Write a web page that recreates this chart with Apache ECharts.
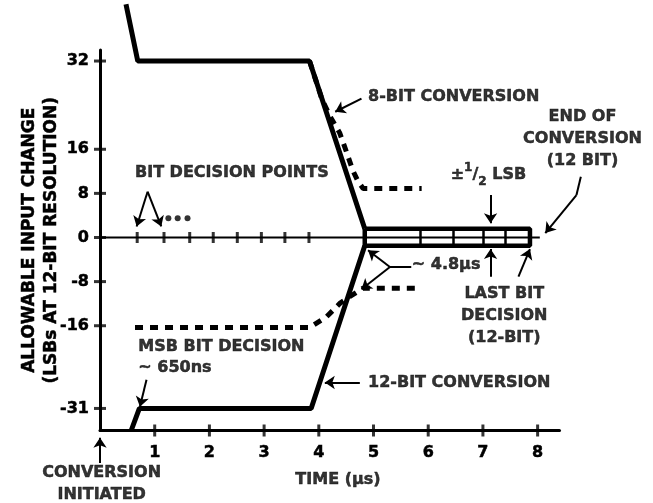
<!DOCTYPE html>
<html><head><meta charset="utf-8">
<script src="https://cdn.jsdelivr.net/npm/echarts@6/dist/echarts.min.js"></script>
<style>html,body{margin:0;padding:0;background:#fff}#c{width:653px;height:503px}</style>
</head><body><div id="c"></div>
<script>
// ---- data (time in µs, value in LSBs) ----
const yTickValues = [32, 16, 8, 0, -8, -16, -31];
const xTickValues = [1, 2, 3, 4, 5, 6, 7, 8];
const upper12 = [[0.475, 42.3], [0.69, 32], [3.83, 32], [4.84, 1.6]];
const lower12 = [[0.57, -35], [0.72, -31], [3.86, -31], [4.84, -1.5]];
const upper8 = [[3.83, 32], [4.06, 25], [4.22, 21.7], [4.38, 19], [4.51, 15.4], [4.62, 12.2], [4.72, 10.1], [4.81, 8.9], [5.88, 8.9]];
const lower8 = [[0.64, -16.3], [3.84, -16.3], [4.14, -14.4], [4.39, -11.9], [4.57, -10.7], [4.81, -9.2], [5.81, -9.2]];
const lsbBox = [[4.84, 1.6], [7.86, 1.6], [7.86, -1.5], [4.84, -1.5], [4.84, 1.6]];
const boxDividers = [5.85, 6.46, 7.01, 7.40];
const boxTop = 1.6, boxBottom = -1.5;
const bitDecisions = [0.68, 1.17, 1.64, 2.07, 2.51, 2.95, 3.38, 3.82];
const zeroLine = [[0, 0], [8.04, 0]];
const ellipsis = [[1.25, 3.5], [1.42, 3.5], [1.60, 3.5]];
const arrowSegments = [
  [[0.87, 8.3], [0.67, 2.0]],
  [[0.87, 8.3], [1.12, 2.0]],
  [[4.78, 25.2], [4.30, 22.8]],
  [[8.71, 7.7], [8.14, 0.8]],
  [[7.14, 7.7], [7.14, 2.6]],
  [[5.30, -5.35], [4.90, -2.3]],
  [[5.30, -5.35], [4.78, -9.4]],
  [[7.14, -7.1], [7.14, -2.1]],
  [[7.65, -7.1], [7.86, -2.1]],
  [[4.75, -26.3], [4.11, -26.3]],
  [[0.85, -25.8], [0.73, -30.7]],
  [[0, -40.9], [0, -36.3]]
];
const plainSegments = [
  [[8.79, 11.0], [8.71, 7.7]],
  [[5.69, -5.35], [5.30, -5.35]]
];
const notes = [
  { t: 2.41, v: 11.7, text: 'BIT DECISION POINTS', align: 'center' },
  { t: 4.90, v: 25.5, text: '8-BIT CONVERSION', align: 'left' },
  { t: 8.82, v: 17.9, text: 'END OF\nCONVERSION\n(12 BIT)', align: 'center' },
  { t: 7.10, v: 11.3, text: '{b|±}{sup|1}{b|/}{sub|2}{b| LSB}', align: 'center' },
  { t: 5.70, v: -5.0, text: '~ 4.8µs', align: 'left' },
  { t: 7.39, v: -14.2, text: 'LAST BIT\nDECISION\n(12-BIT)', align: 'center' },
  { t: 4.90, v: -26.3, text: '12-BIT CONVERSION', align: 'left' },
  { t: 0.70, v: -19.8, text: 'MSB BIT DECISION', align: 'left' },
  { t: 0.70, v: -23.7, text: '~ 650ns', align: 'left' },
  { t: 0.03, v: -44.6, text: 'CONVERSION\nINITIATED', align: 'center' },
  { t: 4.35, v: -44.0, text: 'TIME (µs)', align: 'center' }
];
const yTitle = 'ALLOWABLE INPUT CHANGE\n(LSBs AT 12-BIT RESOLUTION)';

// ---- chart ----
const F = 'DejaVu Sans';
const K = '#000';
const heavy = { textBorderColor: K, textBorderWidth: 0.5 };
const txt = Object.assign({ color: K, fontFamily: F, fontWeight: 'bold', fontSize: 16 }, heavy);
const chart = echarts.init(document.getElementById('c'), null, { renderer: 'canvas' });

const segs = [];
boxDividers.forEach(x => segs.push({ coords: [[x, boxTop], [x, boxBottom]] }));
const rs = (size, va, lh) => Object.assign({ color: K, fontFamily: F, fontWeight: 'bold', fontSize: size, verticalAlign: va, lineHeight: lh }, heavy);

chart.setOption({
  animation: false,
  backgroundColor: '#fff',
  grid: { left: 100, right: 93.5, top: 50, bottom: 72.5, containLabel: false, outerBoundsMode: 'none' },
  xAxis: {
    type: 'value', min: 0, max: 8.4,
    axisLine: { onZero: false, lineStyle: { color: K, width: 3 } },
    axisTick: { show: false }, splitLine: { show: false },
    axisLabel: Object.assign({ customValues: xTickValues, margin: 14 }, txt)
  },
  yAxis: {
    type: 'value', min: -35, max: 34,
    axisLine: { onZero: false, lineStyle: { color: K, width: 3 } },
    axisTick: { show: false }, splitLine: { show: false },
    axisLabel: Object.assign({ customValues: yTickValues, margin: 11 }, txt),
    name: yTitle, nameLocation: 'middle', nameRotate: 90, nameGap: 37, nameMoveOverlap: false,
    nameTextStyle: Object.assign({}, txt, { fontSize: 17, lineHeight: 22, align: 'center' })
  },
  series: [
    { type: 'line', data: zeroLine, showSymbol: false, clip: false, z: 2,
      lineStyle: { color: K, width: 2 } },
    { type: 'lines', coordinateSystem: 'cartesian2d', clip: false, z: 2,
      lineStyle: { color: K, width: 2.5, opacity: 1 }, data: segs },
    { type: 'line', data: upper8, showSymbol: false, clip: false, z: 3,
      lineStyle: { color: K, width: 5, type: [8, 7] } },
    { type: 'line', data: lower8, showSymbol: false, clip: false, z: 3,
      lineStyle: { color: K, width: 5, type: [8, 7] } },
    { type: 'line', data: upper12, showSymbol: false, clip: false, z: 4,
      lineStyle: { color: K, width: 5 } },
    { type: 'line', data: lower12, showSymbol: false, clip: false, z: 4,
      lineStyle: { color: K, width: 5 } },
    { type: 'line', data: lsbBox, showSymbol: false, clip: false, z: 4,
      lineStyle: { color: K, width: 4.5 } },
    { type: 'scatter', data: bitDecisions.map(x => [x, 0]), symbol: 'rect', symbolSize: [3, 11],
      itemStyle: { color: K }, clip: false, z: 5 },
    { type: 'scatter', data: yTickValues.map(v => [0, v]), symbol: 'rect', symbolSize: [12, 3],
      itemStyle: { color: K }, clip: false, z: 5 },
    { type: 'scatter', data: xTickValues.map(t => [t, -35]), symbol: 'rect', symbolSize: [3, 12],
      itemStyle: { color: K }, clip: false, z: 5 },
    { type: 'scatter', data: ellipsis, symbol: 'circle', symbolSize: 6,
      itemStyle: { color: K }, clip: false, z: 5 },
    { type: 'lines', coordinateSystem: 'cartesian2d', clip: false, z: 6,
      symbol: ['none', 'arrow'], symbolSize: 10,
      lineStyle: { color: K, width: 2, opacity: 1 },
      data: arrowSegments.map(c => ({ coords: c })) },
    { type: 'lines', coordinateSystem: 'cartesian2d', clip: false, z: 6,
      lineStyle: { color: K, width: 2, opacity: 1 },
      data: plainSegments.map(c => ({ coords: c })) },
    { type: 'scatter', symbolSize: 0, clip: false, z: 7, silent: true,
      data: notes.map(n => ({
        value: [n.t, n.v],
        label: Object.assign({
          show: true, position: 'inside', formatter: n.text, align: n.align,
          verticalAlign: 'middle', lineHeight: 22,
          rich: { b: rs(16, 'middle', 26), sup: rs(12, 'top', 14), sub: rs(12, 'bottom', 14) }
        }, txt)
      })) }
  ]
});
</script></body></html>
